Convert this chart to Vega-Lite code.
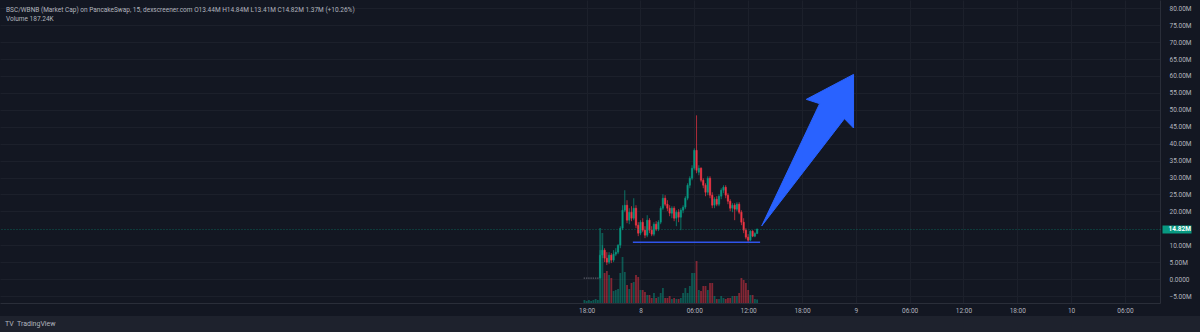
{
  "$schema": "https://vega.github.io/schema/vega-lite/v6.json",
  "background": "#131722",
  "padding": 0,
  "spacing": 2,
  "config": {
    "font": "Roboto",
    "view": {"stroke": null},
    "axis": {"labelFont": "Roboto", "labelFontSize": 6.5, "labelColor": "#b2b5be", "gridColor": "#1c202b", "domainColor": "#2a2e39", "ticks": false},
    "title": {"font": "Roboto"}
  },
  "datasets": {
    "candles": [
      {"t":"2025-03-07T17:45:00Z","o":0.29,"h":0.29,"l":0.29,"c":0.29,"v":161},
      {"t":"2025-03-07T18:00:00Z","o":0.29,"h":0.29,"l":0.29,"c":0.29,"v":107},
      {"t":"2025-03-07T18:15:00Z","o":0.29,"h":0.29,"l":0.29,"c":0.29,"v":161},
      {"t":"2025-03-07T18:30:00Z","o":0.29,"h":0.29,"l":0.29,"c":0.29,"v":107},
      {"t":"2025-03-07T18:45:00Z","o":0.29,"h":0.29,"l":0.29,"c":0.29,"v":161},
      {"t":"2025-03-07T19:00:00Z","o":0.29,"h":0.29,"l":0.29,"c":0.29,"v":214},
      {"t":"2025-03-07T19:15:00Z","o":0.29,"h":0.29,"l":0.29,"c":0.29,"v":161},
      {"t":"2025-03-07T19:30:00Z","o":0.29,"h":8.55,"l":0.2,"c":7.08,"v":4013},
      {"t":"2025-03-07T19:45:00Z","o":7.08,"h":10.03,"l":6.19,"c":8.55,"v":3745},
      {"t":"2025-03-07T20:00:00Z","o":8.55,"h":9.14,"l":5.01,"c":6.19,"v":1605},
      {"t":"2025-03-07T20:15:00Z","o":6.19,"h":7.96,"l":4.13,"c":5.01,"v":1712},
      {"t":"2025-03-07T20:30:00Z","o":5.01,"h":7.96,"l":4.42,"c":7.08,"v":1498},
      {"t":"2025-03-07T20:45:00Z","o":7.08,"h":7.67,"l":4.72,"c":5.6,"v":1338},
      {"t":"2025-03-07T21:00:00Z","o":5.6,"h":8.55,"l":5.01,"c":7.37,"v":642},
      {"t":"2025-03-07T21:15:00Z","o":7.37,"h":9.14,"l":6.78,"c":7.96,"v":696},
      {"t":"2025-03-07T21:30:00Z","o":7.96,"h":10.32,"l":7.37,"c":10.03,"v":749},
      {"t":"2025-03-07T21:45:00Z","o":10.03,"h":15.63,"l":9.14,"c":15.04,"v":1605},
      {"t":"2025-03-07T22:00:00Z","o":15.04,"h":21.83,"l":14.45,"c":20.35,"v":2461},
      {"t":"2025-03-07T22:15:00Z","o":20.35,"h":26.25,"l":19.76,"c":21.83,"v":1659},
      {"t":"2025-03-07T22:30:00Z","o":21.83,"h":23.3,"l":16.52,"c":17.4,"v":963},
      {"t":"2025-03-07T22:45:00Z","o":17.4,"h":20.94,"l":16.22,"c":19.76,"v":749},
      {"t":"2025-03-07T23:00:00Z","o":19.76,"h":21.53,"l":17.11,"c":17.99,"v":1070},
      {"t":"2025-03-07T23:15:00Z","o":17.99,"h":23.89,"l":17.4,"c":20.94,"v":1124},
      {"t":"2025-03-07T23:30:00Z","o":20.94,"h":21.83,"l":15.04,"c":15.93,"v":1498},
      {"t":"2025-03-07T23:45:00Z","o":15.93,"h":16.81,"l":12.68,"c":13.57,"v":1391},
      {"t":"2025-03-08T00:00:00Z","o":13.57,"h":17.4,"l":12.98,"c":16.81,"v":696},
      {"t":"2025-03-08T00:15:00Z","o":16.81,"h":17.99,"l":13.86,"c":14.45,"v":696},
      {"t":"2025-03-08T00:30:00Z","o":14.45,"h":15.63,"l":12.09,"c":12.98,"v":589},
      {"t":"2025-03-08T00:45:00Z","o":12.98,"h":18.88,"l":12.39,"c":17.4,"v":428},
      {"t":"2025-03-08T01:00:00Z","o":17.4,"h":17.99,"l":13.57,"c":14.45,"v":428},
      {"t":"2025-03-08T01:15:00Z","o":14.45,"h":15.63,"l":12.68,"c":13.27,"v":268},
      {"t":"2025-03-08T01:30:00Z","o":13.27,"h":16.81,"l":12.68,"c":16.22,"v":535},
      {"t":"2025-03-08T01:45:00Z","o":16.22,"h":17.11,"l":14.16,"c":14.75,"v":268},
      {"t":"2025-03-08T02:00:00Z","o":14.75,"h":17.4,"l":14.16,"c":16.81,"v":321},
      {"t":"2025-03-08T02:15:00Z","o":16.81,"h":21.53,"l":16.22,"c":20.94,"v":535},
      {"t":"2025-03-08T02:30:00Z","o":20.94,"h":25.07,"l":20.35,"c":23.89,"v":803},
      {"t":"2025-03-08T02:45:00Z","o":23.89,"h":24.78,"l":21.53,"c":22.12,"v":268},
      {"t":"2025-03-08T03:00:00Z","o":22.12,"h":23.3,"l":20.06,"c":20.94,"v":268},
      {"t":"2025-03-08T03:15:00Z","o":20.94,"h":21.83,"l":18.58,"c":19.47,"v":375},
      {"t":"2025-03-08T03:30:00Z","o":19.47,"h":21.53,"l":17.99,"c":20.94,"v":214},
      {"t":"2025-03-08T03:45:00Z","o":20.94,"h":21.53,"l":17.11,"c":17.99,"v":268},
      {"t":"2025-03-08T04:00:00Z","o":17.99,"h":20.35,"l":15.63,"c":19.76,"v":214},
      {"t":"2025-03-08T04:15:00Z","o":19.76,"h":20.65,"l":16.81,"c":18.29,"v":214},
      {"t":"2025-03-08T04:30:00Z","o":18.29,"h":20.94,"l":14.45,"c":20.35,"v":268},
      {"t":"2025-03-08T04:45:00Z","o":20.35,"h":21.83,"l":19.47,"c":21.24,"v":535},
      {"t":"2025-03-08T05:00:00Z","o":21.24,"h":24.48,"l":20.65,"c":23.89,"v":803},
      {"t":"2025-03-08T05:15:00Z","o":23.89,"h":28.32,"l":23.3,"c":27.73,"v":535},
      {"t":"2025-03-08T05:30:00Z","o":27.73,"h":30.38,"l":26.84,"c":29.79,"v":910},
      {"t":"2025-03-08T05:45:00Z","o":29.79,"h":33.63,"l":29.2,"c":32.74,"v":1605},
      {"t":"2025-03-08T06:00:00Z","o":32.74,"h":38.64,"l":32.15,"c":38.05,"v":1605},
      {"t":"2025-03-08T06:15:00Z","o":38.05,"h":48.38,"l":31.27,"c":32.15,"v":2247},
      {"t":"2025-03-08T06:30:00Z","o":31.56,"h":33.63,"l":30.68,"c":32.74,"v":696},
      {"t":"2025-03-08T06:45:00Z","o":32.74,"h":33.04,"l":28.61,"c":29.2,"v":642},
      {"t":"2025-03-08T07:00:00Z","o":29.2,"h":29.79,"l":26.84,"c":27.73,"v":910},
      {"t":"2025-03-08T07:15:00Z","o":27.73,"h":28.32,"l":24.48,"c":25.66,"v":910},
      {"t":"2025-03-08T07:30:00Z","o":25.66,"h":30.38,"l":24.78,"c":29.79,"v":696},
      {"t":"2025-03-08T07:45:00Z","o":29.79,"h":30.38,"l":23.89,"c":24.78,"v":1070},
      {"t":"2025-03-08T08:00:00Z","o":24.78,"h":25.66,"l":20.94,"c":21.83,"v":1070},
      {"t":"2025-03-08T08:15:00Z","o":21.83,"h":24.19,"l":20.94,"c":23.6,"v":375},
      {"t":"2025-03-08T08:30:00Z","o":23.6,"h":24.48,"l":21.53,"c":22.12,"v":214},
      {"t":"2025-03-08T08:45:00Z","o":22.12,"h":25.07,"l":21.53,"c":24.48,"v":214},
      {"t":"2025-03-08T09:00:00Z","o":24.48,"h":26.84,"l":23.6,"c":26.25,"v":375},
      {"t":"2025-03-08T09:15:00Z","o":26.25,"h":27.73,"l":25.37,"c":27.14,"v":268},
      {"t":"2025-03-08T09:30:00Z","o":27.14,"h":27.73,"l":23.89,"c":24.78,"v":214},
      {"t":"2025-03-08T09:45:00Z","o":24.78,"h":25.37,"l":22.12,"c":23.01,"v":268},
      {"t":"2025-03-08T10:00:00Z","o":23.01,"h":23.6,"l":20.06,"c":20.94,"v":268},
      {"t":"2025-03-08T10:15:00Z","o":20.94,"h":22.42,"l":19.76,"c":21.83,"v":375},
      {"t":"2025-03-08T10:30:00Z","o":21.83,"h":22.42,"l":17.4,"c":20.65,"v":375},
      {"t":"2025-03-08T10:45:00Z","o":20.65,"h":22.71,"l":20.06,"c":22.12,"v":375},
      {"t":"2025-03-08T11:00:00Z","o":22.12,"h":22.71,"l":19.17,"c":19.76,"v":535},
      {"t":"2025-03-08T11:15:00Z","o":19.76,"h":20.35,"l":15.93,"c":16.81,"v":1338},
      {"t":"2025-03-08T11:30:00Z","o":16.81,"h":17.99,"l":13.57,"c":14.45,"v":1231},
      {"t":"2025-03-08T11:45:00Z","o":14.45,"h":15.04,"l":11.8,"c":12.39,"v":1070},
      {"t":"2025-03-08T12:00:00Z","o":12.39,"h":13.27,"l":10.91,"c":11.5,"v":696},
      {"t":"2025-03-08T12:15:00Z","o":11.5,"h":14.45,"l":11.21,"c":14.16,"v":428},
      {"t":"2025-03-08T12:30:00Z","o":14.16,"h":14.45,"l":12.39,"c":12.68,"v":428},
      {"t":"2025-03-08T12:45:00Z","o":12.68,"h":13.86,"l":12.39,"c":13.45,"v":214},
      {"t":"2025-03-08T13:00:00Z","o":13.44,"h":14.84,"l":13.41,"c":14.82,"v":187.24}
    ],
    "arrow": [
      {"k":1,"t":"2025-03-08T13:31:00Z","p":15.72},
      {"k":2,"t":"2025-03-08T19:58:00Z","p":51.83},
      {"k":3,"t":"2025-03-08T18:29:00Z","p":53.1},
      {"k":4,"t":"2025-03-08T23:45:00Z","p":60.47},
      {"k":5,"t":"2025-03-08T23:45:00Z","p":44.63},
      {"k":6,"t":"2025-03-08T22:44:00Z","p":47.4},
      {"k":7,"t":"2025-03-08T13:31:00Z","p":15.72}
    ],
    "support": [
      {"t":"2025-03-07T23:09:00Z","t2":"2025-03-08T13:20:00Z","p":10.91}
    ]
  },
  "vconcat": [
    {
      "width": 1160,
      "height": 303,
      "title": {
        "text": "BSC/WBNB (Market Cap) on PancakeSwap, 15, dexscreener.com  O13.44M  H14.84M  L13.41M  C14.82M  1.37M (+10.26%)",
        "subtitle": "Volume  187.24K",
        "anchor": "start",
        "frame": "group",
        "offset": -22,
        "dx": 6,
        "fontSize": 6.5,
        "fontWeight": "normal",
        "color": "#b2b5be",
        "subtitleFontSize": 6.5,
        "subtitleColor": "#b2b5be",
        "subtitlePadding": 2.5
      },
      "encoding": {
        "x": {
          "field": "t", "type": "temporal",
          "scale": {"type": "utc", "nice": false, "domain": [{"year":2025,"month":3,"date":5,"hours":1,"minutes":10,"utc":true},{"year":2025,"month":3,"date":10,"hours":9,"minutes":21,"utc":true}]},
          "axis": {
            "title": null,
            "orient": "bottom",
            "values": [
              {"year":2025,"month":3,"date":7,"hours":18,"utc":true},
              {"year":2025,"month":3,"date":8,"hours":0,"utc":true},
              {"year":2025,"month":3,"date":8,"hours":6,"utc":true},
              {"year":2025,"month":3,"date":8,"hours":12,"utc":true},
              {"year":2025,"month":3,"date":8,"hours":18,"utc":true},
              {"year":2025,"month":3,"date":9,"hours":0,"utc":true},
              {"year":2025,"month":3,"date":9,"hours":6,"utc":true},
              {"year":2025,"month":3,"date":9,"hours":12,"utc":true},
              {"year":2025,"month":3,"date":9,"hours":18,"utc":true},
              {"year":2025,"month":3,"date":10,"hours":0,"utc":true},
              {"year":2025,"month":3,"date":10,"hours":6,"utc":true}
            ],
            "labelExpr": "utchours(datum.value) == 0 ? utcFormat(datum.value, '%-d') : utcFormat(datum.value, '%H:%M')",
            "labelPadding": 4,
            "labelOverlap": false,
            "labelFlush": false,
            "grid": true,
            "domain": true
          }
        }
      },
      "layer": [
        {
          "data": {"name": "candles"},
          "mark": {"type": "bar", "width": 1.8, "opacity": 0.5},
          "encoding": {
            "y": {"field": "v", "type": "quantitative", "scale": {"domain": [0, 16210], "nice": false, "zero": true}, "axis": null},
            "color": {"condition": {"test": "datum.c >= datum.o", "value": "#089981"}, "value": "#f23645"}
          }
        },
        {
          "layer": [
            {
              "data": {"name": "candles"},
              "mark": {"type": "rule", "strokeWidth": 0.7},
              "encoding": {
                "y": {"field": "l", "type": "quantitative", "scale": {"domain": [-7.06, 82.45], "nice": false, "zero": false}, "axis": null},
                "y2": {"field": "h"},
                "color": {"condition": [{"test": "datum.c > datum.o", "value": "#089981"}, {"test": "datum.c < datum.o", "value": "#f23645"}], "value": "#787b86"}
              }
            },
            {
              "data": {"name": "candles"},
              "mark": {"type": "bar", "width": 1.4, "strokeWidth": 0.5},
              "encoding": {
                "y": {
                  "field": "o", "type": "quantitative",
                  "scale": {"domain": [-7.06, 82.45], "nice": false, "zero": false},
                  "axis": {
                    "title": null,
                    "orient": "right",
                    "values": [-5, 0, 5, 10, 20, 25, 30, 35, 40, 45, 50, 55, 60, 65, 70, 75, 80],
                    "labelExpr": "datum.value == 0 ? '0.0000' : format(datum.value, '.2f') + 'M'",
                    "labelAlign": "left",
                    "labelPadding": 9,
                    "labelOverlap": false,
                    "labelFlush": false,
                    "grid": true,
                    "domain": true
                  }
                },
                "y2": {"field": "c"},
                "color": {"condition": [{"test": "datum.c > datum.o", "value": "#089981"}, {"test": "datum.c < datum.o", "value": "#f23645"}], "value": "#787b86"},
                "stroke": {"condition": [{"test": "datum.c > datum.o", "value": "#089981"}, {"test": "datum.c < datum.o", "value": "#f23645"}], "value": "#787b86"}
              }
            },
            {
              "data": {"name": "support"},
              "mark": {"type": "rule", "color": "#2f54eb", "strokeWidth": 1.5},
              "encoding": {
                "x2": {"field": "t2"},
                "y": {
                  "field": "p", "type": "quantitative",
                  "scale": {"domain": [-7.06, 82.45], "nice": false, "zero": false},
                  "axis": {
                    "title": null,
                    "orient": "right",
                    "values": [14.82],
                    "labelExpr": "'14.82M'",
                    "offset": 2,
                    "ticks": true,
                    "tickSize": 29,
                    "tickWidth": 8,
                    "tickColor": "#089981",
                    "tickCap": "butt",
                    "labelAlign": "left",
                    "labelPadding": -23,
                    "labelColor": "#ffffff",
                    "labelFontWeight": "bold",
                    "domain": false,
                    "grid": true,
                    "gridColor": "#089981",
                    "gridOpacity": 0.55,
                    "gridDash": [1, 2],
                    "zindex": 1
                  }
                }
              }
            },
            {
              "data": {"name": "arrow"},
              "mark": {"type": "line", "fill": "#2962ff", "stroke": "#2962ff", "strokeWidth": 1, "strokeJoin": "round"},
              "encoding": {
                "y": {"field": "p", "type": "quantitative", "scale": {"domain": [-7.06, 82.45], "nice": false, "zero": false}, "axis": null},
                "order": {"field": "k", "type": "quantitative"}
              }
            }
          ],
          "resolve": {"axis": {"y": "independent"}}
        }
      ],
      "resolve": {"scale": {"y": "independent"}}
    },
    {
      "width": 1200,
      "height": 16,
      "view": {"fill": "#1e222d", "stroke": null},
      "data": {"values": [{"s": "TV", "w": "bold", "px": 5}, {"s": "TradingView", "w": "normal", "px": 17}]},
      "mark": {"type": "text", "align": "left", "baseline": "middle", "fontSize": 7, "color": "#b2b5be"},
      "encoding": {
        "text": {"field": "s"},
        "x": {"field": "px", "type": "quantitative", "scale": null, "axis": null},
        "y": {"value": 8},
        "fontWeight": {"field": "w", "type": "nominal", "scale": null}
      }
    }
  ]
}
